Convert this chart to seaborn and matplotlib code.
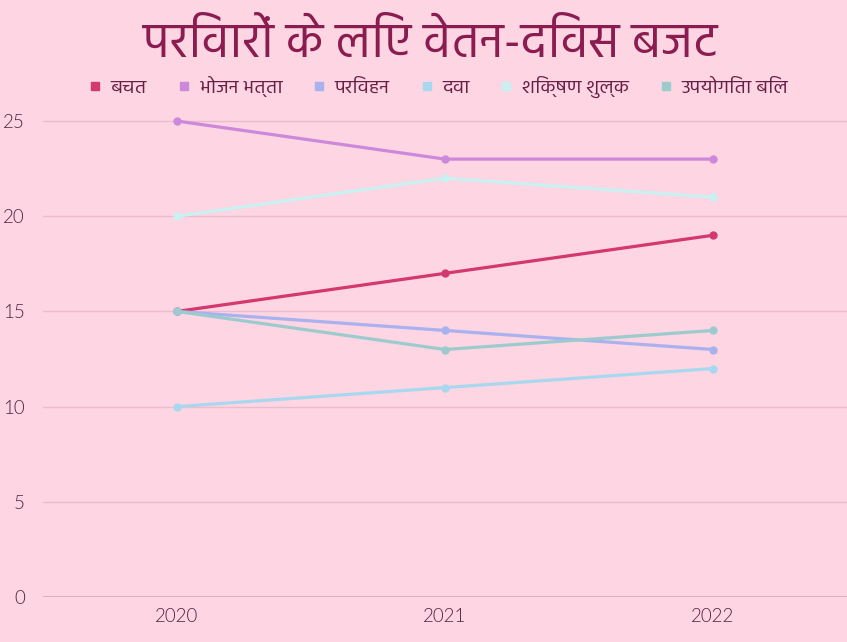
import matplotlib
matplotlib.use("Agg")
import matplotlib.pyplot as plt
from matplotlib import font_manager
from matplotlib.lines import Line2D
import pandas as pd
import seaborn as sns

# data
years = ["2020", "2021", "2022"]
series_names = ["बचत", "भोजन भत्ता", "परिवहन", "दवा", "शिक्षण शुल्क", "उपयोगिता बिल"]
bachat = [15, 17, 19]
bhojan = [25, 23, 23]
parivahan = [15, 14, 13]
dava = [10, 11, 12]
shikshan = [20, 22, 21]
upyogita = [15, 13, 14]
colors = ["#d3386e", "#cc88db", "#a9b2ef", "#a8d8f0", "#c9f1f1", "#9ccbce"]
title = "परिवारों के लिए वेतन-दिवस बजट"


def pick_font(names):
    for n in names:
        try:
            font_manager.findfont(n, fallback_to_default=False)
            return n
        except Exception:
            pass
    return "DejaVu Sans"


def static_file(parts):
    # static (non variable) font file, variable ones open at their thinnest weight
    for p in parts:
        for f in font_manager.fontManager.ttflist:
            if f.fname.endswith(p):
                return f.fname
    return None


hindi_font = pick_font(["Hind", "Mukta", "Noto Sans Devanagari", "Yantramanav", "Poppins", "Martel Sans"])
num_file = static_file(["Montserrat-Regular.ttf", "Montserrat-Light.ttf", "Lato-Light.ttf"])
if num_file:
    num_prop = font_manager.FontProperties(fname=num_file, size=13.5)
else:
    num_prop = font_manager.FontProperties(family=pick_font(["Lato", "DejaVu Sans"]), size=13.5)

values = [bachat, bhojan, parivahan, dava, shikshan, upyogita]
rows = []
for name, vals in zip(series_names, values):
    for y, v in zip(years, vals):
        rows.append({"year": y, "series": name, "value": v})
df = pd.DataFrame(rows)

bg = "#fdd5e3"
sns.set_theme(style="white")
plt.rcParams["font.family"] = [hindi_font, "DejaVu Sans"]

fig = plt.figure(figsize=(8.47, 6.42), dpi=100, facecolor=bg)
ax = fig.add_axes([43 / 847, 1 - 597 / 642, 1 - 43 / 847, (597 - 102) / 642])
ax.set_facecolor(bg)

sns.lineplot(data=df, x="year", y="value", hue="series", hue_order=series_names,
             palette=colors, marker="o", markersize=6, markeredgewidth=0,
             linewidth=2.3, legend=False, ax=ax, sort=False)

ax.set_xlim(-0.5, 2.5)
ax.set_ylim(0, 26)
ax.set_yticks([0, 5, 10, 15, 20, 25])
ax.yaxis.grid(True, color="#ebbccd", linewidth=1)
ax.set_axisbelow(True)
for s in ax.spines.values():
    s.set_visible(False)
ax.axhline(0, color="#d7a2b8", linewidth=1.2, zorder=0)
ax.set_xlabel("")
ax.set_ylabel("")
ax.tick_params(axis="both", length=0, labelcolor="#55203f")
ax.tick_params(axis="y", pad=13)
ax.tick_params(axis="x", pad=8)
for lab in ax.get_xticklabels() + ax.get_yticklabels():
    lab.set_fontproperties(num_prop)

fig.text(0.508, 0.932, title, ha="center", va="center", fontsize=35,
         color="#8a1c50", family=[hindi_font, "DejaVu Sans"])

handles = [Line2D([], [], marker="s", linestyle="", markersize=6, color=c) for c in colors]
fig.legend(handles, series_names, loc="center", bbox_to_anchor=(0.518, 0.864), ncol=6,
           frameon=False, handlelength=0.6, handletextpad=0.5, columnspacing=1.6,
           prop={"family": [hindi_font, "DejaVu Sans"], "size": 14}, labelcolor="#6a1f45")

fig.savefig("out.png", dpi=100, facecolor=bg)
